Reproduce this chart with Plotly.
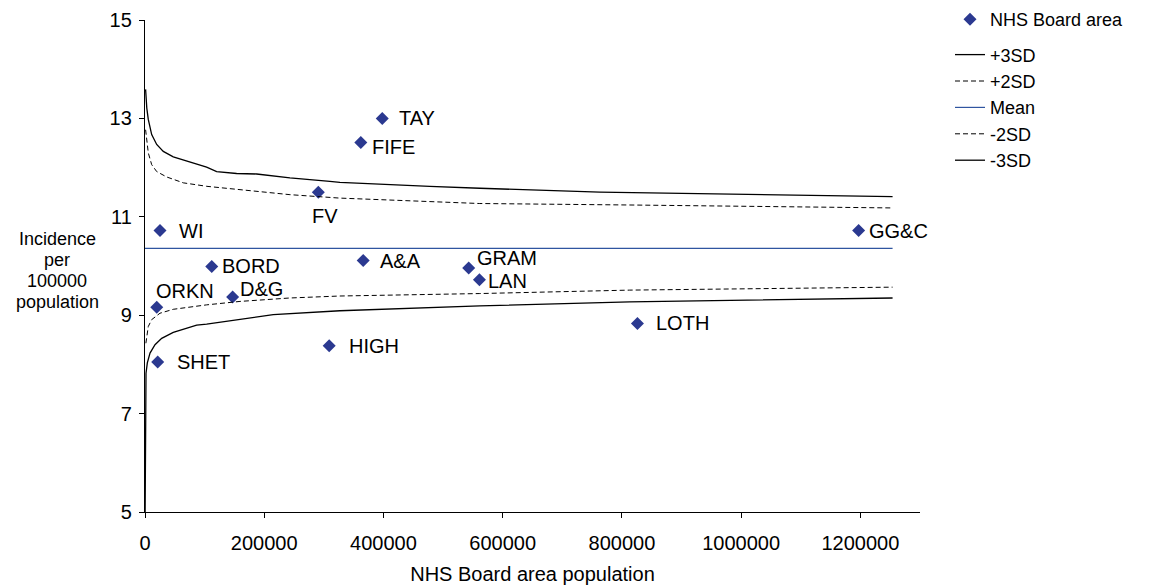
import plotly.graph_objects as go

# ---- data ----
boards = ["TAY", "FIFE", "FV", "WI", "BORD", "A&A", "GRAM", "LAN", "GG&C", "LOTH", "ORKN", "D&G", "SHET", "HIGH"]
board_pop = [398000, 362000, 290700, 25200, 112000, 366000, 543000, 561000, 1197000, 826000, 19700, 147000, 21300, 309000]
board_rate = [13.00, 12.51, 11.50, 10.72, 9.99, 10.11, 9.96, 9.72, 10.72, 8.83, 9.16, 9.37, 8.05, 8.38]

mean_pop = [0, 1254000]
mean_rate = [10.36, 10.36]

p3_pop = [1000, 3000, 5500, 11200, 19600, 30700, 47400, 75400, 103400, 120200, 153700, 187300,
          243100, 310100, 326900, 477800, 561600, 762800, 1014200, 1254000]
p3_rate = [13.59, 13.21, 12.98, 12.67, 12.47, 12.33, 12.22, 12.11, 12.01, 11.92, 11.88, 11.87,
           11.79, 11.72, 11.70, 11.62, 11.58, 11.50, 11.46, 11.41]

p2_pop = [1000, 5500, 11200, 19600, 36300, 64300, 103400, 159300, 243100, 326900, 561600, 813100, 1254000]
p2_rate = [12.77, 12.30, 12.06, 11.92, 11.81, 11.69, 11.62, 11.55, 11.45, 11.38, 11.27, 11.24, 11.18]

m2_pop = [1500, 5500, 11200, 25100, 47400, 103400, 159300, 243100, 326900, 561600, 813100, 1254000]
m2_rate = [8.43, 8.77, 8.91, 9.04, 9.12, 9.21, 9.28, 9.35, 9.39, 9.44, 9.51, 9.57]

m3_pop = [200, 800, 1700, 3900, 8400, 16800, 28000, 47400, 86700, 103400, 159300, 215100, 326900,
          561600, 813100, 1254000]
m3_rate = [5.00, 7.60, 7.82, 8.03, 8.23, 8.40, 8.53, 8.65, 8.80, 8.82, 8.91, 9.01, 9.09,
           9.19, 9.27, 9.35]

x_ticks = [0, 200000, 400000, 600000, 800000, 1000000, 1200000]
y_ticks = [5, 7, 9, 11, 13, 15]
y_title_lines = ["Incidence", "per", "100000", "population"]

# label offsets (pixels): xshift, yshift, xanchor
label_style = {
    "TAY": (15, 0, "left"), "FIFE": (9, -4, "left"), "FV": (7, -24, "center"),
    "WI": (17, 0, "left"), "BORD": (8, 0, "left"), "A&A": (15, 0, "left"),
    "GRAM": (6, 10, "left"), "LAN": (7, -1, "left"), "GG&C": (8, 0, "left"),
    "LOTH": (17, 1, "left"), "ORKN": (-3, 16, "left"), "D&G": (5, 8, "left"),
    "SHET": (17, 0, "left"), "HIGH": (18, 0, "left"),
}

FONT = "Liberation Sans, Arial, sans-serif"
NAVY = "#2B3990"

# plot area in pixels
L, R, T, B = 145, 920, 20, 512
PW, PH = R - L, B - T

fig = go.Figure()
fig.add_trace(go.Scatter(x=board_pop, y=board_rate, mode="markers", name="NHS Board area",
                         marker=dict(symbol="diamond", size=10, color=NAVY),
                         legendgroup="pts"))
fig.add_trace(go.Scatter(x=p3_pop, y=p3_rate, mode="lines", name="+3SD",
                         line=dict(color="black", width=1.3), legendgroup="lines"))
fig.add_trace(go.Scatter(x=p2_pop, y=p2_rate, mode="lines", name="+2SD",
                         line=dict(color="black", width=1, dash="5px,3px"), legendgroup="lines"))
fig.add_trace(go.Scatter(x=mean_pop, y=mean_rate, mode="lines", name="Mean",
                         line=dict(color="#2F55A0", width=1.2), legendgroup="lines"))
fig.add_trace(go.Scatter(x=m2_pop, y=m2_rate, mode="lines", name="-2SD",
                         line=dict(color="black", width=1, dash="5px,3px"), legendgroup="lines"))
fig.add_trace(go.Scatter(x=m3_pop, y=m3_rate, mode="lines", name="-3SD",
                         line=dict(color="black", width=1.3), legendgroup="lines"))

annotations = []
for name, px, py in zip(boards, board_pop, board_rate):
    xs, ys, xa = label_style[name]
    annotations.append(dict(x=px, y=py, xref="x", yref="y", text=name, showarrow=False,
                            xanchor=xa, yanchor="middle", xshift=xs, yshift=ys,
                            font=dict(family=FONT, size=20, color="black")))

title_y_px = [239, 260, 281, 302]
for line, ypx in zip(y_title_lines, title_y_px):
    annotations.append(dict(x=(57 - L) / PW, y=(B - ypx) / PH, xref="paper", yref="paper",
                            text=line, showarrow=False, xanchor="center", yanchor="middle",
                            font=dict(family=FONT, size=18, color="black")))

fig.update_layout(
    width=1151, height=585,
    margin=dict(l=L, r=1151 - R, t=T, b=585 - B, autoexpand=False),
    paper_bgcolor="white", plot_bgcolor="white",
    font=dict(family=FONT, size=20, color="black"),
    showlegend=True,
    legend=dict(x=(950 - L) / PW, y=1 + 19 / PH, xanchor="left", yanchor="top",
                font=dict(family=FONT, size=18, color="black"),
                traceorder="grouped", tracegroupgap=9, bgcolor="rgba(0,0,0,0)"),
    annotations=annotations,
)
fig.update_xaxes(range=[0, 1300000], tickvals=x_ticks, ticktext=[str(v) for v in x_ticks],
                 showline=True, linecolor="black", linewidth=1.3, ticks="outside", ticklen=5,
                 tickcolor="black", showgrid=False, zeroline=False,
                 ticklabelstandoff=8, automargin=False,
                 title=dict(text="NHS Board area population", standoff=16,
                            font=dict(family=FONT, size=20)))
fig.update_yaxes(range=[5, 15], tickvals=y_ticks, ticktext=[str(v) for v in y_ticks],
                 showline=True, linecolor="black", linewidth=1.3, ticks="outside", ticklen=5,
                 tickcolor="black", showgrid=False, zeroline=False,
                 ticklabelstandoff=3, automargin=False)

fig.write_html("out.html", config={"displayModeBar": False},
               post_script="document.body.style.margin='0px';")
